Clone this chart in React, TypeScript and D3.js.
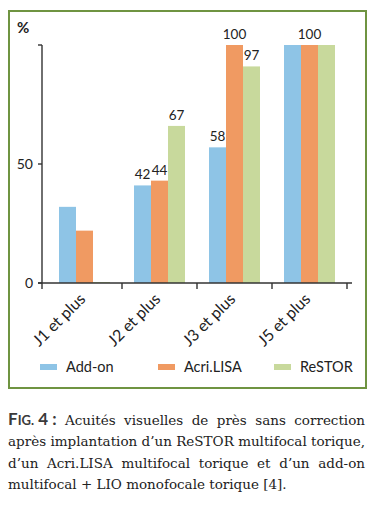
import React, { useMemo } from "react";
import * as d3 from "d3";

const categories = ["J1 et plus", "J2 et plus", "J3 et plus", "J5 et plus"];
const seriesNames = ["Add-on", "Acri.LISA", "ReSTOR"];
const seriesColors = ["#8ec4e6", "#f09a62", "#c8d99c"];
const addOn = [32, 41, 57, 100];
const acriLisa = [22, 43, 100, 100];
const restor = [0, 66, 91, 100];
const addOnLabels = ["", "42", "58", ""];
const acriLisaLabels = ["", "44", "100", "100"];
const restorLabels = ["", "67", "97", ""];
const yTicks = [0, 50, 100];
const yTickLabels = ["0", "50", ""];
const captionLines = [
  ["Acuités", "visuelles", "de", "près", "sans", "correction"],
  ["après", "implantation", "d’un", "ReSTOR", "multifocal", "torique,"],
  ["d’un", "Acri.LISA", "multifocal", "torique", "et", "d’un", "add-on"],
  ["multifocal", "+", "LIO", "monofocale", "torique", "[4]."],
];

const SANS = "Lato, 'Open Sans', sans-serif";
const SERIF = "'DejaVu Serif', 'Liberation Serif', serif";

export default function App() {
  const W = 376, H = 506;
  const values = [addOn, acriLisa, restor];
  const labels = [addOnLabels, acriLisaLabels, restorLabels];
  const y = d3.scaleLinear().domain([0, 100]).range([283, 45]);
  const x0 = d3.scaleBand<string>().domain(categories).range([47, 347]);
  const x1 = d3.scaleBand<string>().domain(seriesNames).range([12, 63]);

  const caption = useMemo(() => {
    const c = document.createElement("canvas").getContext("2d")!;
    c.font = `20px ${SERIF}`;
    const lastW = c.measureText(captionLines[3].join(" ")).width;
    const fs = Math.min(15.5, (20 * 279) / lastW);
    c.font = `${fs}px ${SERIF}`;
    const space = c.measureText(" ").width;
    c.font = `bold 17px ${SANS}`;
    const fW = c.measureText("F").width;
    c.font = `bold 13px ${SANS}`;
    const igW = c.measureText("IG.").width;
    c.font = `bold 17px ${SANS}`;
    const fourW = c.measureText(" 4 :").width;
    const pre = fW + igW + fourW;
    c.font = `${fs}px ${SERIF}`;
    const left = 8, right = 365;
    return captionLines.map((words, li) => {
      const ws = words.map((w) => c.measureText(w).width);
      const start = li === 0 ? left + pre : left;
      const total = ws.reduce((a, b) => a + b, 0);
      const gaps = words.length - 1 + (li === 0 ? 1 : 0);
      const gap = li === captionLines.length - 1 ? space : (right - start - total) / gaps;
      let xx = start + (li === 0 ? gap : 0);
      const pos = ws.map((w) => {
        const p = xx;
        xx += w + gap;
        return p;
      });
      return { words, pos, fs };
    });
  }, []);

  return (
    <svg width={W} height={H} style={{ position: "absolute", left: 0, top: 0 }}>
      <rect x={0} y={0} width={W} height={H} fill="#fff" />
      <rect x={9} y={11} width={357} height={377} fill="none" stroke="#6f9441" strokeWidth={2} />
      <text x={17} y={33} fontFamily={SANS} fontSize={15} fontWeight={700} fill="#222">%</text>
      {categories.map((cat, ci) => (
        <g key={cat} transform={`translate(${x0(cat)},0)`}>
          {seriesNames.map((s, si) => {
            const v = values[si][ci];
            const top = y(v);
            const h = Math.max(y(0) - top, 1);
            return (
              <rect key={s} x={x1(s)} y={y(0) - h} width={x1.bandwidth()} height={h} fill={seriesColors[si]} />
            );
          })}
          {seriesNames.map((s, si) => {
            const lab = labels[si][ci];
            if (!lab) return null;
            return (
              <text key={s} x={(x1(s) as number) + x1.bandwidth() / 2} y={y(values[si][ci]) - 6}
                textAnchor="middle" fontFamily={SANS} fontSize={13.5} fill="#222">{lab}</text>
            );
          })}
        </g>
      ))}
      <line x1={42} x2={42} y1={y(100)} y2={y(0)} stroke="#333" strokeWidth={1.4} />
      {yTicks.map((t, i) => (
        <g key={t}>
          <line x1={38} x2={42} y1={y(t)} y2={y(t)} stroke="#333" strokeWidth={1.4} />
          {yTickLabels[i] && (
            <text x={33} y={y(t) + 5} textAnchor="end" fontFamily={SANS} fontSize={14} fill="#222">{yTickLabels[i]}</text>
          )}
        </g>
      ))}
      <line x1={38} x2={352} y1={y(0)} y2={y(0)} stroke="#333" strokeWidth={1.4} />
      <line x1={42} x2={42} y1={y(0)} y2={y(0) + 6} stroke="#333" strokeWidth={1.4} />
      {categories.map((cat) => {
        const bx = (x0(cat) as number) + x0.bandwidth();
        return <line key={cat} x1={bx} x2={bx} y1={y(0)} y2={y(0) + 6} stroke="#333" strokeWidth={1.4} />;
      })}
      {categories.map((cat) => {
        const cx = (x0(cat) as number) + x0.bandwidth() / 2 + 2;
        const ty = y(0) + 17;
        return (
          <text key={cat} x={cx} y={ty} transform={`rotate(-45,${cx},${ty})`} textAnchor="end"
            fontFamily={SANS} fontSize={16} fill="#222">{cat}</text>
        );
      })}
      {seriesNames.map((s, i) => {
        const lx = [40, 158, 274][i];
        return (
          <g key={s}>
            <rect x={lx} y={364} width={17} height={6} fill={seriesColors[i]} />
            <text x={lx + 26} y={372} fontFamily={SANS} fontSize={14.5} fill="#222">{s}</text>
          </g>
        );
      })}
      {caption.map((line, li) => {
        const by = 425 + li * 21.3;
        return (
          <g key={li}>
            {li === 0 && (
              <text x={8} y={by} fontFamily={SANS} fontWeight={700} fill="#3a3a3a">
                <tspan fontSize={17}>F</tspan>
                <tspan fontSize={13}>IG.</tspan>
                <tspan fontSize={17}> 4 :</tspan>
              </text>
            )}
            {line.words.map((w, wi) => (
              <text key={wi} x={line.pos[wi]} y={by} fontFamily={SERIF} fontSize={line.fs} fill="#222">{w}</text>
            ))}
          </g>
        );
      })}
    </svg>
  );
}
